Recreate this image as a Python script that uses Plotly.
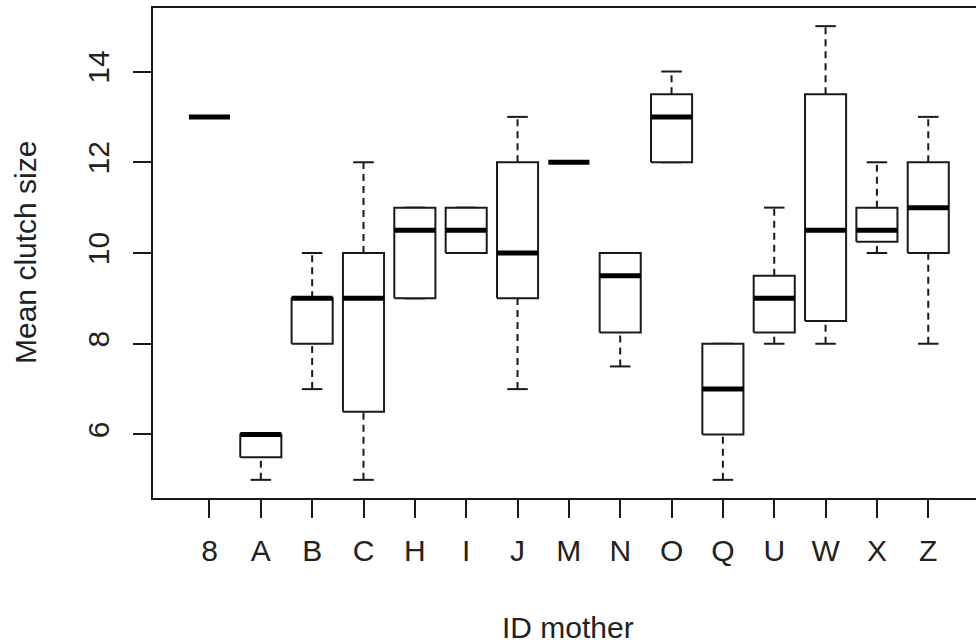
import numpy as np
import plotly.graph_objects as go

# Five-number summaries of mean clutch size per mother
mothers = ["8", "A", "B", "C", "H", "I", "J", "M", "N", "O", "Q", "U", "W", "X", "Z"]
lower_whisker = [13, 5, 7, 5, 9, 10, 7, 12, 7.5, 12, 5, 8, 8, 10, 8]
q1 = [13, 5.5, 8, 6.5, 9, 10, 9, 12, 8.25, 12, 6, 8.25, 8.5, 10.25, 10]
median = [13, 6, 9, 9, 10.5, 10.5, 10, 12, 9.5, 13, 7, 9, 10.5, 10.5, 11]
q3 = [13, 6, 9, 10, 11, 11, 12, 12, 10, 13.5, 8, 9.5, 13.5, 11, 12]
upper_whisker = [13, 6, 10, 12, 11, 11, 13, 12, 10, 14, 8, 11, 15, 12, 13]
y_ticks = [6, 8, 10, 12, 14]

pos = np.arange(1, len(mothers) + 1)
half_box = 0.4
half_staple = 0.2
ink = "#1a1a1a"
font_family = "Liberation Sans, Arial, sans-serif"

box_x, box_y = [], []
med_x, med_y = [], []
wh_x, wh_y = [], []
st_x, st_y = [], []
for p, lo, a, m, b, hi in zip(pos, lower_whisker, q1, median, q3, upper_whisker):
    if b > a:
        box_x += [p - half_box, p + half_box, p + half_box, p - half_box, p - half_box, None]
        box_y += [a, a, b, b, a, None]
    med_x += [p - half_box, p + half_box, None]
    med_y += [m, m, None]
    if hi > b:
        wh_x += [p, p, None]
        wh_y += [b, hi, None]
    if lo < a:
        wh_x += [p, p, None]
        wh_y += [lo, a, None]
    st_x += [p - half_staple, p + half_staple, None, p - half_staple, p + half_staple, None]
    st_y += [hi, hi, None, lo, lo, None]

fig = go.Figure()
fig.add_trace(go.Scatter(x=wh_x, y=wh_y, mode="lines",
                         line=dict(color=ink, width=2, dash="7px,5px"),
                         hoverinfo="skip", showlegend=False))
fig.add_trace(go.Scatter(x=st_x, y=st_y, mode="lines",
                         line=dict(color=ink, width=2),
                         hoverinfo="skip", showlegend=False))
fig.add_trace(go.Scatter(x=box_x, y=box_y, mode="lines", fill="toself",
                         fillcolor="white", line=dict(color=ink, width=2),
                         hoverinfo="skip", showlegend=False))
fig.add_trace(go.Scatter(x=med_x, y=med_y, mode="lines",
                         line=dict(color="black", width=5),
                         hoverinfo="skip", showlegend=False))

axis_font = dict(family=font_family, size=30, color="#222")

fig.update_layout(
    width=976, height=643,
    margin=dict(l=153, r=0, t=8, b=145),
    paper_bgcolor="white", plot_bgcolor="white",
    xaxis=dict(
        range=[-0.1, 15.93],
        tickvals=pos, ticktext=mothers,
        showgrid=False, zeroline=False,
        showline=True, mirror=True, linecolor=ink, linewidth=2,
        ticks="outside", ticklen=18, tickwidth=2, tickcolor=ink,
        tickfont=axis_font, ticklabelstandoff=7,
    ),
    yaxis=dict(
        range=[4.6, 15.4],
        tickvals=y_ticks,
        showgrid=False, zeroline=False,
        showline=True, mirror=False, linecolor=ink, linewidth=2,
        ticks="outside", ticklen=18, tickwidth=2, tickcolor=ink,
        tickfont=axis_font, tickangle=-90, ticklabelstandoff=12,
    ),
    annotations=[
        dict(text="ID mother", xref="paper", yref="paper", x=0.504, y=0,
             xanchor="center", yanchor="middle", yshift=-129,
             showarrow=False, font=axis_font),
        dict(text="Mean clutch size", xref="paper", yref="paper", x=0, y=0.5,
             xanchor="center", yanchor="middle", xshift=-128, textangle=-90,
             showarrow=False, font=axis_font),
    ],
)

fig.write_html("out.html")
